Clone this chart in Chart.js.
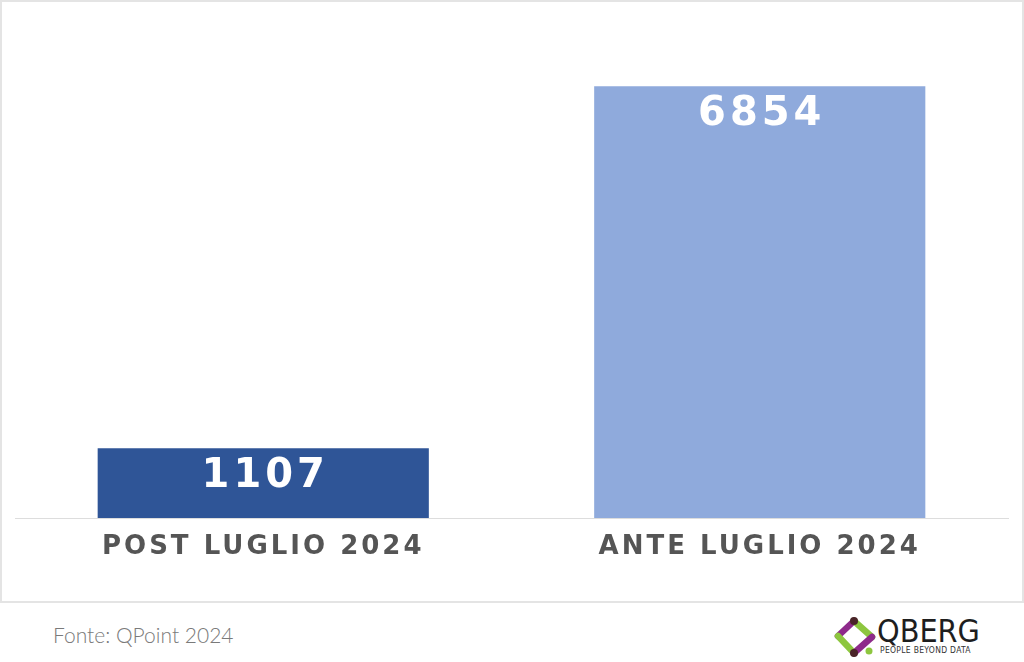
<!DOCTYPE html>
<html>
<head>
<meta charset="utf-8">
<script src="https://cdn.jsdelivr.net/npm/chart.js@4/dist/chart.umd.min.js"></script>
<style>
  body { margin: 0; background: #fff; width: 1024px; height: 662px; overflow: hidden; position: relative; }
  #box { position: absolute; left: 0; top: 0; width: 1024px; height: 603px; box-sizing: border-box; border: 2px solid #e4e4e4; }
  #wrap { position: absolute; left: 0; top: 0; width: 1020px; height: 599px; }
  #fonte { position: absolute; left: 53px; top: 622px; font: 300 21px Lato, "Open Sans", sans-serif; color: #7a7a7a; }
  #logo { position: absolute; left: 832px; top: 614px; }
  #qberg { position: absolute; left: 877px; top: 615px; font: 32px "Liberation Sans Narrow", "DejaVu Sans Condensed", sans-serif; color: #1e1e1e; line-height: 32px; }
  #tag { position: absolute; left: 880px; top: 645px; font: 8.5px "Liberation Sans Narrow", "DejaVu Sans Condensed", sans-serif; color: #333; letter-spacing: 0.3px; }
</style>
</head>
<body>
<div id="box"><div id="wrap"><canvas id="chart"></canvas></div></div>
<div id="fonte">Fonte: QPoint 2024</div>
<svg id="logo" width="46" height="46" viewBox="0 0 46 46">
  <g stroke-linecap="round" stroke-width="6.5" fill="none">
    <line x1="22" y1="7" x2="6" y2="22" stroke="#8e2a8b"/>
    <line x1="6" y1="22" x2="22" y2="39" stroke="#8dc63f"/>
    <line x1="22" y1="7" x2="40" y2="23" stroke="#8dc63f"/>
    <line x1="40" y1="23" x2="22" y2="39" stroke="#8e2a8b"/>
  </g>
  <circle cx="22" cy="7" r="4" fill="#4a2428"/>
  <circle cx="22" cy="39" r="4" fill="#4a2428"/>
  <circle cx="37" cy="37" r="3.5" fill="#8dc63f"/>
</svg>
<div id="qberg">QBERG</div>
<div id="tag">PEOPLE BEYOND DATA</div>
<script>
// DATA
const categories = ["POST LUGLIO 2024", "ANTE LUGLIO 2024"];
const values = [1107, 6854];
const barColors = ["#2f5597", "#8faadc"];

// VALUE LABELS ON BARS
const valueLabels = {
  id: "valueLabels",
  beforeDraw(chart) {
    chart.ctx.letterSpacing = "3px";
  },
  afterDatasetsDraw(chart) {
    const ctx = chart.ctx;
    const meta = chart.getDatasetMeta(0);
    ctx.save();
    ctx.letterSpacing = "4px";
    ctx.font = "bold 40px 'DejaVu Sans', sans-serif";
    ctx.fillStyle = "#ffffff";
    ctx.textAlign = "center";
    ctx.textBaseline = "middle";
    meta.data.forEach((bar, i) => {
      ctx.fillText(String(values[i]), bar.x + 2, bar.y + 28);
    });
    ctx.restore();
  }
};

new Chart(document.getElementById("chart"), {
  type: "bar",
  data: {
    labels: categories,
    datasets: [{
      data: values,
      backgroundColor: barColors,
      categoryPercentage: 1,
      barPercentage: 0.667
    }]
  },
  options: {
    responsive: true,
    maintainAspectRatio: false,
    animation: false,
    layout: { padding: { top: 75, left: 13, right: 14, bottom: 0 } },
    plugins: { legend: { display: false }, tooltip: { enabled: false } },
    scales: {
      x: {
        grid: { display: false, drawTicks: false },
        border: { color: "#dddddd", width: 1 },
        ticks: {
          color: "#555555",
          padding: 14,
          font: { family: "'DejaVu Sans', sans-serif", size: 26, weight: "bold" }
        },
        afterFit: s => { s.height = 83; }
      },
      y: { display: false, min: 0, max: 7000 }
    }
  },
  plugins: [valueLabels]
});
</script>
</body>
</html>
